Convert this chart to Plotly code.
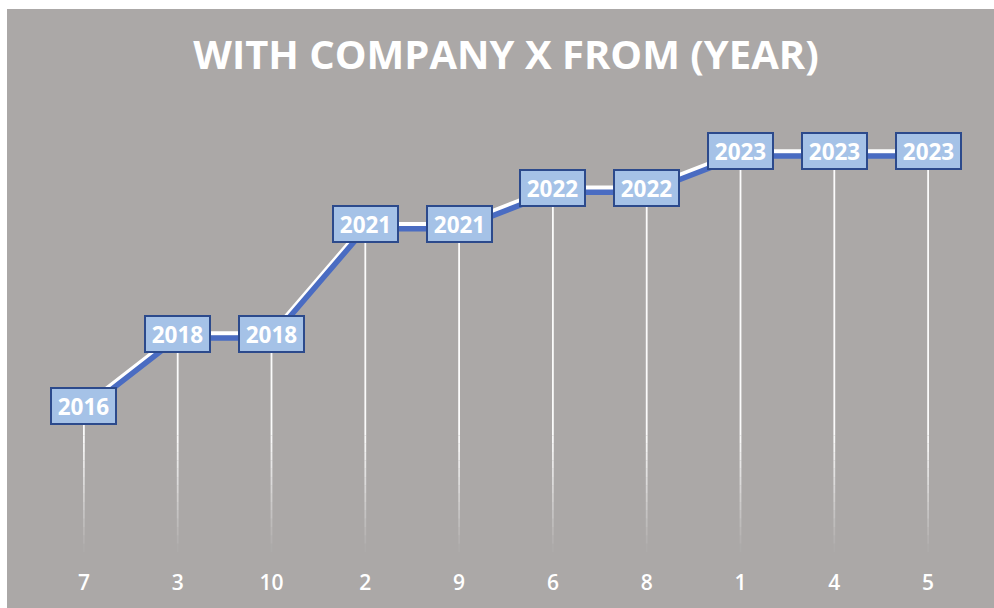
import plotly.graph_objects as go

# Employee IDs (x categories) and the year each joined Company X
employees = ["7", "3", "10", "2", "9", "6", "8", "1", "4", "5"]
start_year = [2016, 2018, 2018, 2021, 2021, 2022, 2022, 2023, 2023, 2023]

Y_MIN, Y_MAX = 2012, 2024

BG = "#aba8a7"
BLUE = "#4a6cc2"
BOX_FILL = "#a5c2e7"
BOX_EDGE = "#2c4a8c"

W, H = 994, 608
M_L, M_R, M_T, M_B = 37, 19, 115, 56
plot_w = W - M_L - M_R
plot_h = H - M_T - M_B
px_per_year = plot_h / (Y_MAX - Y_MIN)
shadow_px = 4.5
shift = shadow_px / px_per_year

fig = go.Figure()

# Drop lines from each point to the axis, fading toward the bottom
n_steps = 14
fade_top = 2015.2
full_x, full_y = [], []
for cat, yr in zip(employees, start_year):
    full_x += [cat, cat, None]
    full_y += [yr, fade_top, None]
fig.add_trace(go.Scatter(x=full_x, y=full_y, mode="lines",
                         line=dict(color="rgba(255,255,255,0.95)", width=1.8),
                         hoverinfo="skip", showlegend=False))
step = (fade_top - Y_MIN) / n_steps
for k in range(n_steps):
    y0 = fade_top - k * step
    y1 = y0 - step
    alpha = 0.95 * (1 - (k + 0.5) / n_steps)
    xs, ys = [], []
    for cat in employees:
        xs += [cat, cat, None]
        ys += [y0, y1, None]
    fig.add_trace(go.Scatter(x=xs, y=ys, mode="lines",
                             line=dict(color=f"rgba(255,255,255,{alpha:.3f})", width=1.8),
                             hoverinfo="skip", showlegend=False))

# Blue lower band of the line (same data on an axis nudged a few pixels)
fig.add_trace(go.Scatter(x=employees, y=start_year, mode="lines", yaxis="y2",
                         line=dict(color=BLUE, width=5.5), showlegend=False))
# White upper band of the line
fig.add_trace(go.Scatter(x=employees, y=start_year, mode="lines",
                         line=dict(color="white", width=4.5), showlegend=False))

# Value boxes (category positions given by index)
for i, yr in enumerate(start_year):
    fig.add_annotation(x=i, y=yr, xref="x", yref="y", text=f"<b>{yr}</b>",
                       showarrow=False, bgcolor=BOX_FILL, bordercolor=BOX_EDGE,
                       borderwidth=2, borderpad=1, width=61, height=32,
                       font=dict(family="Open Sans", size=22.5, color="white"))

# Gray chart area on a white page
fig.add_shape(type="rect", xref="paper", yref="paper", layer="below",
              x0=(7 - M_L) / plot_w, x1=(W + 5 - M_L) / plot_w,
              y0=-(M_B + 5) / plot_h, y1=(H - M_B - 9) / plot_h,
              fillcolor=BG, line=dict(width=0))

fig.update_layout(
    width=W, height=H,
    margin=dict(l=M_L, r=M_R, t=M_T, b=M_B),
    paper_bgcolor="white", plot_bgcolor="rgba(0,0,0,0)",
    title=dict(text="<b>WITH COMPANY X FROM (YEAR)</b>", x=0.5, xref="paper",
               y=1 - 55 / H, yanchor="middle",
               font=dict(family="Open Sans", size=40, color="white")),
    xaxis=dict(type="category", range=[-0.5, len(employees) - 0.5],
               showgrid=False, zeroline=False, showline=False, ticks="",
               ticklabelstandoff=16,
               tickfont=dict(family="Open Sans", size=21, color="white", weight=600)),
    yaxis=dict(range=[Y_MIN, Y_MAX], visible=False, showgrid=False),
    yaxis2=dict(range=[Y_MIN + shift, Y_MAX + shift], overlaying="y",
                visible=False, showgrid=False),
    showlegend=False,
)

fig.write_html("out.html")
